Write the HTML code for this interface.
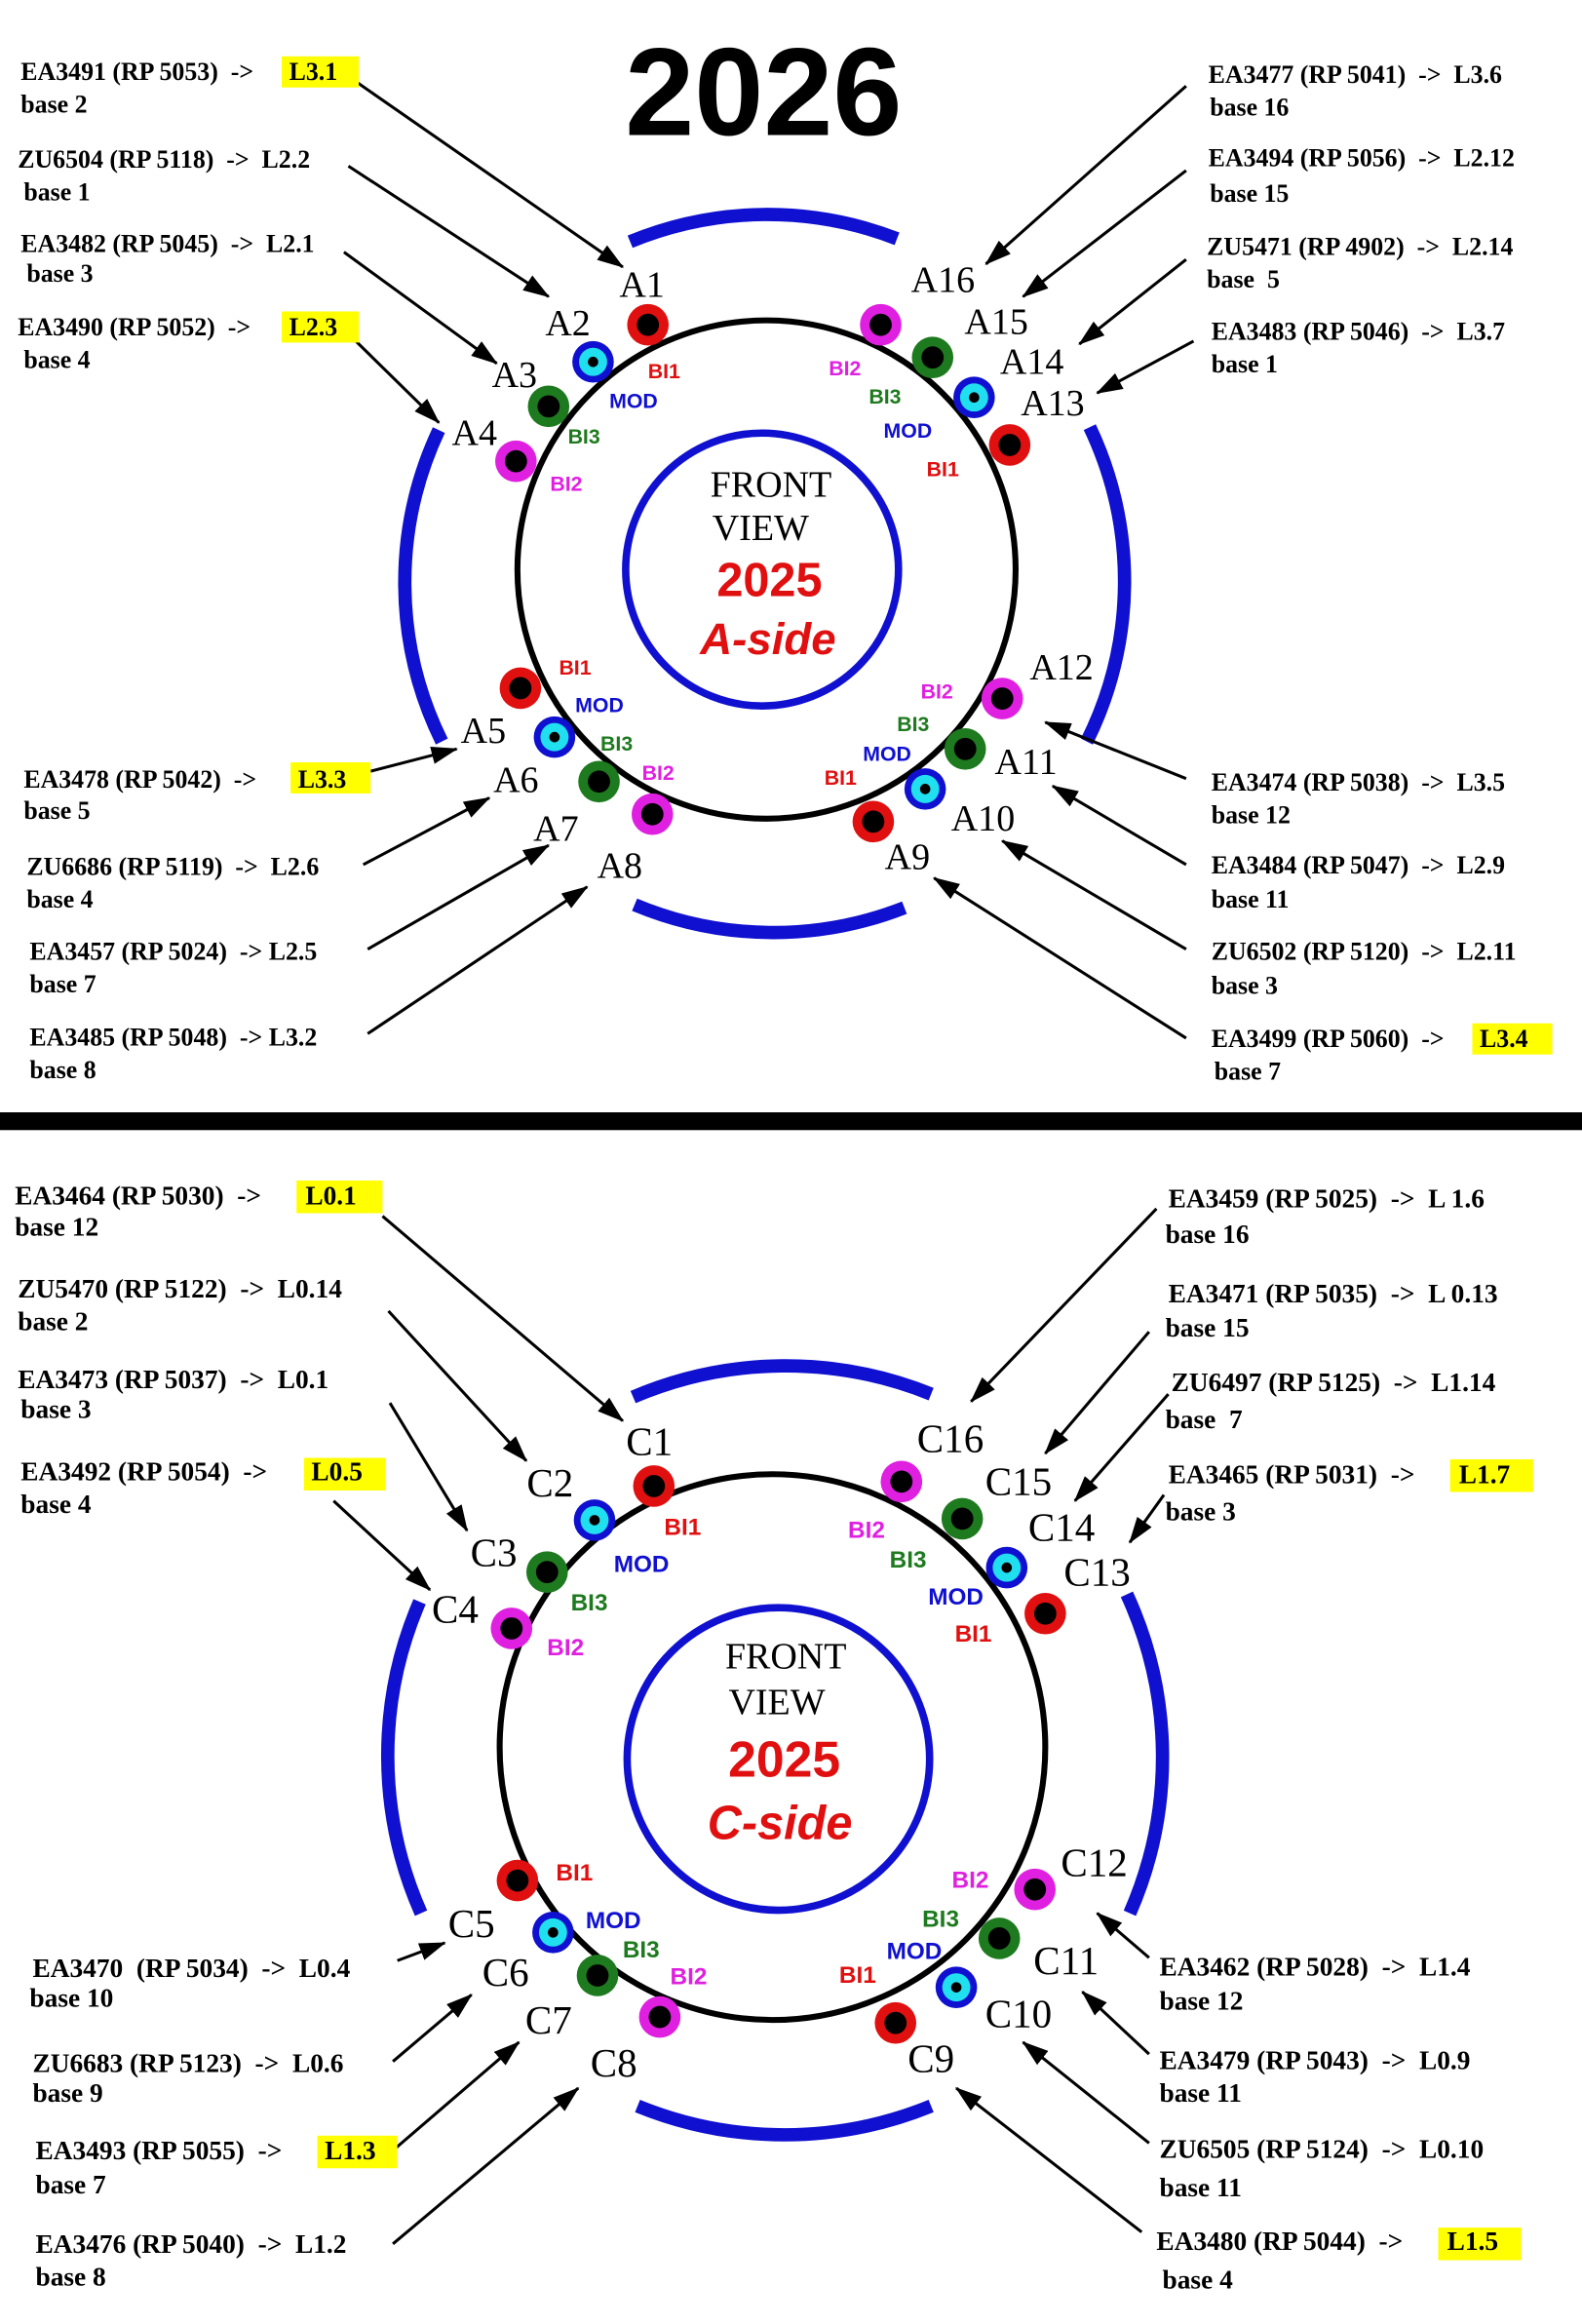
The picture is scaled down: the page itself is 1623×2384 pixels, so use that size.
<!DOCTYPE html>
<html><head><meta charset="utf-8"><style>
html,body{margin:0;padding:0;background:#fff}
svg{display:block}
text{white-space:pre}
.t{font-family:"Liberation Serif",serif;font-weight:bold;font-size:17px;fill:#000}
.n{font-family:"Liberation Serif",serif;font-size:25px;fill:#000}
.s{font-family:"Liberation Sans",sans-serif;font-weight:bold;font-size:14px}
</style></head><body>
<svg width="1623" height="2384" viewBox="0 0 1067 1567" preserveAspectRatio="none" xmlns="http://www.w3.org/2000/svg" xml:space="preserve">
<defs>
<marker id="a2" markerWidth="18" markerHeight="12" refX="17" refY="6" orient="auto" markerUnits="userSpaceOnUse" viewBox="0 0 18 12">
<path d="M0,0 L18,6 L0,12 z" fill="#000"/></marker>
<g id="dr"><circle r="14" fill="#e01010"/><circle r="7.5" fill="#000"/></g>
<g id="dg"><circle r="14" fill="#1e7a1e"/><circle r="7.5" fill="#000"/></g>
<g id="dm"><circle r="14" fill="#e020e0"/><circle r="7.5" fill="#000"/></g>
<g id="db"><circle r="14" fill="#1010d0"/><circle r="9.5" fill="#20e0f0"/><circle r="3.5" fill="#000"/></g>
</defs>
<rect width="1067" height="1567" fill="#fff"/>

<!-- ===== TOP ===== -->
<text x="515" y="91" text-anchor="middle" font-family="Liberation Sans,sans-serif" font-weight="bold" font-size="84" fill="#000">2026</text>

<g fill="none" stroke="#1010d0" stroke-width="9">
<path d="M425,163 A242,242 0 0 1 605,161"/>
<path d="M296,290 A242,242 0 0 0 298,500"/>
<path d="M735,288 A242,242 0 0 1 733,500"/>
<path d="M428,610 A242,242 0 0 0 610,612"/>
</g>
<circle cx="517" cy="384" r="168" fill="none" stroke="#000" stroke-width="4"/>
<circle cx="514" cy="384" r="92" fill="none" stroke="#1010d0" stroke-width="5"/>
<text x="520" y="335" text-anchor="middle" class="n">FRONT</text>
<text x="513" y="364" text-anchor="middle" class="n">VIEW</text>
<text x="519" y="402" text-anchor="middle" font-family="Liberation Sans,sans-serif" font-weight="bold" font-size="32" fill="#e01010">2025</text>
<text x="518" y="441" text-anchor="middle" font-family="Liberation Sans,sans-serif" font-weight="bold" font-style="italic" font-size="30" fill="#e01010">A-side</text>

<use href="#dr" x="437" y="219"/><use href="#db" x="400" y="244"/><use href="#dg" x="370" y="274"/><use href="#dm" x="348" y="311"/>
<use href="#dm" x="594" y="219"/><use href="#dg" x="629" y="241"/><use href="#db" x="657" y="268"/><use href="#dr" x="681" y="300"/>
<use href="#dr" x="351" y="464"/><use href="#db" x="374" y="497"/><use href="#dg" x="404" y="527"/><use href="#dm" x="440" y="549"/>
<use href="#dm" x="676" y="471"/><use href="#dg" x="651" y="505"/><use href="#db" x="624" y="532"/><use href="#dr" x="589" y="554"/>

<g class="s">
<text x="437" y="255" fill="#e01010">BI1</text><text x="411" y="275" fill="#1010d0">MOD</text><text x="383" y="299" fill="#1e7a1e">BI3</text><text x="371" y="331" fill="#e020e0">BI2</text>
<text x="559" y="253" fill="#e020e0">BI2</text><text x="586" y="272" fill="#1e7a1e">BI3</text><text x="596" y="295" fill="#1010d0">MOD</text><text x="625" y="321" fill="#e01010">BI1</text>
<text x="377" y="455" fill="#e01010">BI1</text><text x="388" y="480" fill="#1010d0">MOD</text><text x="405" y="506" fill="#1e7a1e">BI3</text><text x="433" y="526" fill="#e020e0">BI2</text>
<text x="621" y="471" fill="#e020e0">BI2</text><text x="605" y="493" fill="#1e7a1e">BI3</text><text x="582" y="513" fill="#1010d0">MOD</text><text x="556" y="529" fill="#e01010">BI1</text>
</g>

<g class="n">
<text x="433" y="200" text-anchor="middle">A1</text><text x="383" y="226" text-anchor="middle">A2</text><text x="347" y="261" text-anchor="middle">A3</text><text x="320" y="300" text-anchor="middle">A4</text>
<text x="636" y="197" text-anchor="middle">A16</text><text x="672" y="225" text-anchor="middle">A15</text><text x="696" y="252" text-anchor="middle">A14</text><text x="710" y="280" text-anchor="middle">A13</text>
<text x="716" y="458" text-anchor="middle">A12</text><text x="692" y="522" text-anchor="middle">A11</text><text x="663" y="560" text-anchor="middle">A10</text><text x="612" y="586" text-anchor="middle">A9</text>
<text x="326" y="501" text-anchor="middle">A5</text><text x="348" y="534" text-anchor="middle">A6</text><text x="375" y="567" text-anchor="middle">A7</text><text x="418" y="592" text-anchor="middle">A8</text>
</g>

<g stroke="#000" stroke-width="2" marker-end="url(#a2)">
<line x1="240" y1="55" x2="420" y2="180"/><line x1="235" y1="112" x2="370" y2="200"/><line x1="232" y1="170" x2="335" y2="245"/><line x1="240" y1="230" x2="296" y2="285"/>
<line x1="800" y1="58" x2="665" y2="178"/><line x1="800" y1="115" x2="690" y2="200"/><line x1="800" y1="175" x2="728" y2="232"/><line x1="805" y1="230" x2="740" y2="265"/>
<line x1="250" y1="520" x2="308" y2="505"/><line x1="245" y1="583" x2="330" y2="538"/><line x1="248" y1="640" x2="370" y2="570"/><line x1="248" y1="697" x2="396" y2="598"/>
<line x1="800" y1="525" x2="705" y2="487"/><line x1="800" y1="583" x2="710" y2="530"/><line x1="800" y1="640" x2="676" y2="567"/><line x1="800" y1="700" x2="630" y2="592"/>
</g>

<g fill="#ffff00">
<rect x="190" y="38" width="52" height="21"/><rect x="190" y="210" width="52" height="21"/><rect x="196" y="514" width="54" height="21"/><rect x="993" y="690" width="54" height="21"/>
</g>
<g class="t">
<text x="14" y="54">EA3491 (RP 5053)  -&gt;</text><text x="195" y="54">L3.1</text><text x="14" y="76">base 2</text>
<text x="12" y="113">ZU6504 (RP 5118)  -&gt;  L2.2</text><text x="16" y="135">base 1</text>
<text x="14" y="170">EA3482 (RP 5045)  -&gt;  L2.1</text><text x="18" y="190">base 3</text>
<text x="12" y="226">EA3490 (RP 5052)  -&gt;</text><text x="195" y="226">L2.3</text><text x="16" y="248">base 4</text>
<text x="815" y="56">EA3477 (RP 5041)  -&gt;  L3.6</text><text x="816" y="78">base 16</text>
<text x="815" y="112">EA3494 (RP 5056)  -&gt;  L2.12</text><text x="816" y="136">base 15</text>
<text x="814" y="172">ZU5471 (RP 4902)  -&gt;  L2.14</text><text x="814" y="194">base  5</text>
<text x="817" y="229">EA3483 (RP 5046)  -&gt;  L3.7</text><text x="817" y="251">base 1</text>
<text x="16" y="531">EA3478 (RP 5042)  -&gt;</text><text x="201" y="531">L3.3</text><text x="16" y="552">base 5</text>
<text x="18" y="590">ZU6686 (RP 5119)  -&gt;  L2.6</text><text x="18" y="612">base 4</text>
<text x="20" y="647">EA3457 (RP 5024)  -&gt; L2.5</text><text x="20" y="669">base 7</text>
<text x="20" y="705">EA3485 (RP 5048)  -&gt; L3.2</text><text x="20" y="727">base 8</text>
<text x="817" y="533">EA3474 (RP 5038)  -&gt;  L3.5</text><text x="817" y="555">base 12</text>
<text x="817" y="589">EA3484 (RP 5047)  -&gt;  L2.9</text><text x="817" y="612">base 11</text>
<text x="817" y="647">ZU6502 (RP 5120)  -&gt;  L2.11</text><text x="817" y="670">base 3</text>
<text x="817" y="706">EA3499 (RP 5060)  -&gt;</text><text x="998" y="706">L3.4</text><text x="819" y="728">base 7</text>
</g>

<rect x="0" y="750" width="1067" height="12" fill="#000"/>

<!-- ===== BOTTOM ===== -->
<g fill="none" stroke="#1010d0" stroke-width="9">
<path d="M427,942 A262,262 0 0 1 628,940"/>
<path d="M283,1080 A262,262 0 0 0 284,1290"/>
<path d="M760,1075 A262,262 0 0 1 762,1290"/>
<path d="M430,1420 A262,262 0 0 0 628,1420"/>
</g>
<circle cx="521" cy="1178" r="184" fill="none" stroke="#000" stroke-width="4"/>
<circle cx="525" cy="1186" r="102" fill="none" stroke="#1010d0" stroke-width="5"/>
<text x="530" y="1125" text-anchor="middle" class="n">FRONT</text>
<text x="524" y="1156" text-anchor="middle" class="n">VIEW</text>
<text x="529" y="1198" text-anchor="middle" font-family="Liberation Sans,sans-serif" font-weight="bold" font-size="34" fill="#e01010">2025</text>
<text x="526" y="1240" text-anchor="middle" font-family="Liberation Sans,sans-serif" font-weight="bold" font-style="italic" font-size="32" fill="#e01010">C-side</text>

<use href="#dr" x="441" y="1002"/><use href="#db" x="401" y="1025"/><use href="#dg" x="369" y="1060"/><use href="#dm" x="345" y="1098"/>
<use href="#dm" x="608" y="999"/><use href="#dg" x="649" y="1024"/><use href="#db" x="679" y="1057"/><use href="#dr" x="705" y="1088"/>
<use href="#dr" x="349" y="1268"/><use href="#db" x="373" y="1303"/><use href="#dg" x="403" y="1332"/><use href="#dm" x="445" y="1360"/>
<use href="#dm" x="698" y="1274"/><use href="#dg" x="674" y="1307"/><use href="#db" x="645" y="1340"/><use href="#dr" x="604" y="1364"/>

<g class="s">
<text x="448" y="1035" fill="#e01010" font-size="16">BI1</text><text x="414" y="1060" fill="#1010d0" font-size="16">MOD</text><text x="385" y="1086" fill="#1e7a1e" font-size="16">BI3</text><text x="369" y="1116" fill="#e020e0" font-size="16">BI2</text>
<text x="572" y="1037" fill="#e020e0" font-size="16">BI2</text><text x="600" y="1057" fill="#1e7a1e" font-size="16">BI3</text><text x="626" y="1082" fill="#1010d0" font-size="16">MOD</text><text x="644" y="1107" fill="#e01010" font-size="16">BI1</text>
<text x="375" y="1268" fill="#e01010" font-size="16">BI1</text><text x="395" y="1300" fill="#1010d0" font-size="16">MOD</text><text x="420" y="1320" fill="#1e7a1e" font-size="16">BI3</text><text x="452" y="1338" fill="#e020e0" font-size="16">BI2</text>
<text x="642" y="1273" fill="#e020e0" font-size="16">BI2</text><text x="622" y="1299" fill="#1e7a1e" font-size="16">BI3</text><text x="598" y="1321" fill="#1010d0" font-size="16">MOD</text><text x="566" y="1337" fill="#e01010" font-size="16">BI1</text>
</g>
<g class="n">
<text x="438" y="981" text-anchor="middle" font-size="27">C1</text><text x="371" y="1009" text-anchor="middle" font-size="27">C2</text><text x="333" y="1056" text-anchor="middle" font-size="27">C3</text><text x="307" y="1094" text-anchor="middle" font-size="27">C4</text>
<text x="641" y="979" text-anchor="middle" font-size="27">C16</text><text x="687" y="1008" text-anchor="middle" font-size="27">C15</text><text x="716" y="1039" text-anchor="middle" font-size="27">C14</text><text x="740" y="1069" text-anchor="middle" font-size="27">C13</text>
<text x="738" y="1265" text-anchor="middle" font-size="27">C12</text><text x="719" y="1331" text-anchor="middle" font-size="27">C11</text><text x="687" y="1367" text-anchor="middle" font-size="27">C10</text><text x="628" y="1397" text-anchor="middle" font-size="27">C9</text>
<text x="318" y="1306" text-anchor="middle" font-size="27">C5</text><text x="341" y="1339" text-anchor="middle" font-size="27">C6</text><text x="370" y="1371" text-anchor="middle" font-size="27">C7</text><text x="414" y="1400" text-anchor="middle" font-size="27">C8</text>
</g>

<g stroke="#000" stroke-width="2" marker-end="url(#a2)">
<line x1="258" y1="820" x2="420" y2="958"/><line x1="262" y1="884" x2="355" y2="985"/><line x1="263" y1="946" x2="315" y2="1032"/><line x1="225" y1="1012" x2="290" y2="1072"/>
<line x1="780" y1="815" x2="655" y2="945"/><line x1="775" y1="898" x2="705" y2="980"/><line x1="788" y1="940" x2="725" y2="1012"/><line x1="785" y1="1008" x2="762" y2="1040"/>
<line x1="268" y1="1322" x2="300" y2="1310"/><line x1="265" y1="1390" x2="318" y2="1345"/><line x1="265" y1="1450" x2="350" y2="1377"/><line x1="265" y1="1513" x2="390" y2="1408"/>
<line x1="775" y1="1320" x2="740" y2="1290"/><line x1="775" y1="1385" x2="730" y2="1343"/><line x1="775" y1="1445" x2="690" y2="1377"/><line x1="770" y1="1505" x2="645" y2="1408"/>
</g>

<g fill="#ffff00">
<rect x="200" y="796" width="58" height="22"/><rect x="205" y="983" width="55" height="22"/><rect x="978" y="984" width="56" height="22"/><rect x="214" y="1440" width="54" height="22"/><rect x="970" y="1502" width="56" height="22"/>
</g>
<g class="t">
<text x="10" y="812" font-size="18">EA3464 (RP 5030)  -&gt;</text><text x="206" y="812" font-size="18">L0.1</text><text x="10" y="833" font-size="18">base 12</text>
<text x="12" y="875" font-size="18">ZU5470 (RP 5122)  -&gt;  L0.14</text><text x="12" y="897" font-size="18">base 2</text>
<text x="12" y="936" font-size="18">EA3473 (RP 5037)  -&gt;  L0.1</text><text x="14" y="956" font-size="18">base 3</text>
<text x="14" y="998" font-size="18">EA3492 (RP 5054)  -&gt;</text><text x="210" y="998" font-size="18">L0.5</text><text x="14" y="1020" font-size="18">base 4</text>
<text x="788" y="814" font-size="18">EA3459 (RP 5025)  -&gt;  L 1.6</text><text x="786" y="838" font-size="18">base 16</text>
<text x="788" y="878" font-size="18">EA3471 (RP 5035)  -&gt;  L 0.13</text><text x="786" y="901" font-size="18">base 15</text>
<text x="790" y="938" font-size="18">ZU6497 (RP 5125)  -&gt;  L1.14</text><text x="786" y="963" font-size="18">base  7</text>
<text x="788" y="1000" font-size="18">EA3465 (RP 5031)  -&gt;</text><text x="984" y="1000" font-size="18">L1.7</text><text x="786" y="1025" font-size="18">base 3</text>
<text x="22" y="1333" font-size="18">EA3470  (RP 5034)  -&gt;  L0.4</text><text x="20" y="1353" font-size="18">base 10</text>
<text x="22" y="1397" font-size="18">ZU6683 (RP 5123)  -&gt;  L0.6</text><text x="22" y="1417" font-size="18">base 9</text>
<text x="24" y="1456" font-size="18">EA3493 (RP 5055)  -&gt;</text><text x="219" y="1456" font-size="18">L1.3</text><text x="24" y="1479" font-size="18">base 7</text>
<text x="24" y="1519" font-size="18">EA3476 (RP 5040)  -&gt;  L1.2</text><text x="24" y="1541" font-size="18">base 8</text>
<text x="782" y="1332" font-size="18">EA3462 (RP 5028)  -&gt;  L1.4</text><text x="782" y="1355" font-size="18">base 12</text>
<text x="782" y="1395" font-size="18">EA3479 (RP 5043)  -&gt;  L0.9</text><text x="782" y="1417" font-size="18">base 11</text>
<text x="782" y="1455" font-size="18">ZU6505 (RP 5124)  -&gt;  L0.10</text><text x="782" y="1481" font-size="18">base 11</text>
<text x="780" y="1517" font-size="18">EA3480 (RP 5044)  -&gt;</text><text x="976" y="1517" font-size="18">L1.5</text><text x="784" y="1543" font-size="18">base 4</text>
</g>
</svg>
</body></html>
